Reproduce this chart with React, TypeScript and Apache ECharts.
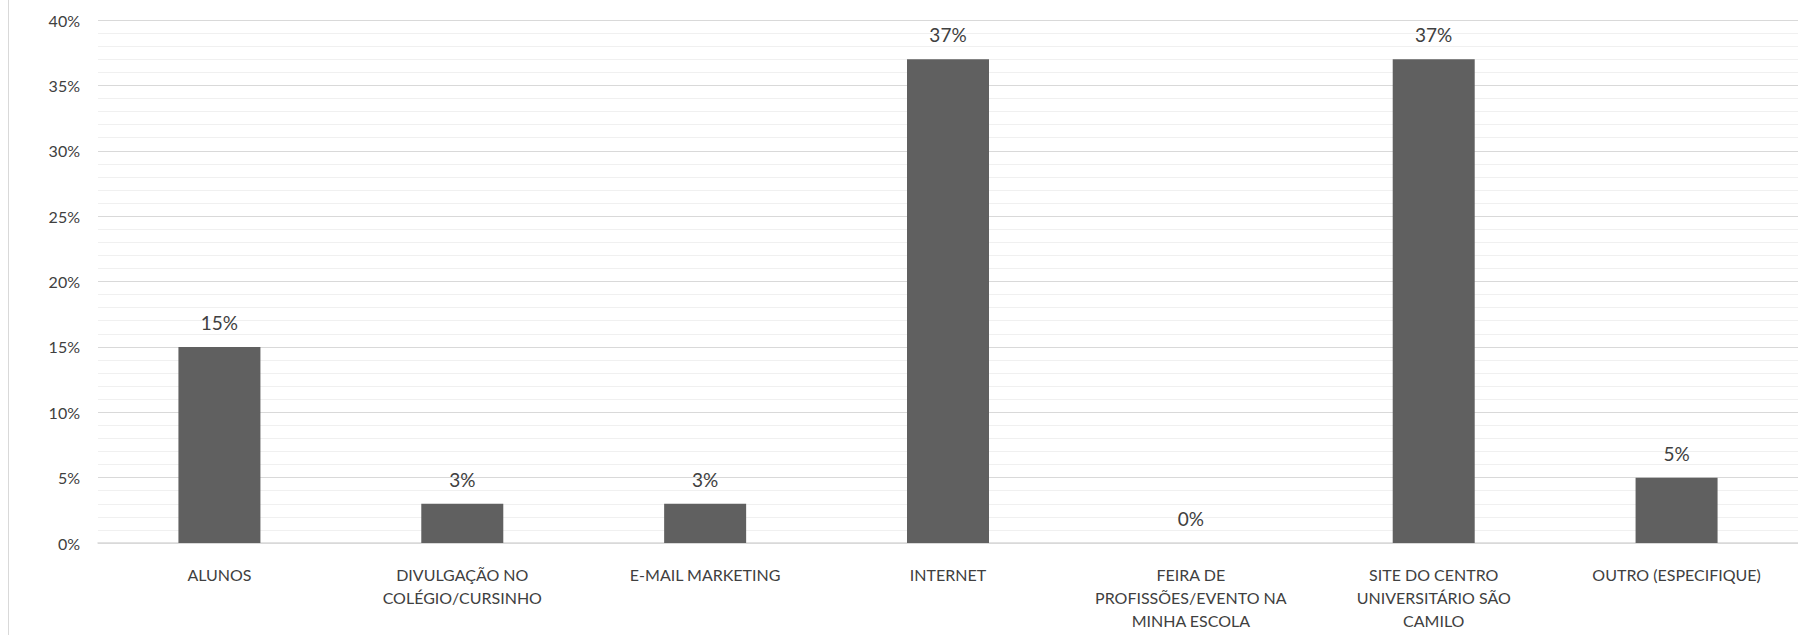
import React, { useEffect, useRef } from "react";
import * as echarts from "echarts";

const categories = [
  "ALUNOS",
  "DIVULGAÇÃO NO\nCOLÉGIO/CURSINHO",
  "E-MAIL MARKETING",
  "INTERNET",
  "FEIRA DE\nPROFISSÕES/EVENTO NA\nMINHA ESCOLA",
  "SITE DO CENTRO\nUNIVERSITÁRIO SÃO\nCAMILO",
  "OUTRO (ESPECIFIQUE)",
];
const values = [0.15, 0.03, 0.03, 0.37, 0.0, 0.37, 0.05];

const FONT = "Lato, 'Noto Sans', sans-serif";

export default function App() {
  const ref = useRef<HTMLDivElement>(null);
  useEffect(() => {
    document.body.style.margin = "0";
    const chart = echarts.init(ref.current!, undefined, { renderer: "svg" });
    chart.setOption({
      animation: false,
      backgroundColor: "#ffffff",
      grid: { left: 98, right: 0, top: 20, bottom: 92, containLabel: false },
      graphic: [
        {
          type: "line",
          shape: { x1: 8.5, y1: 0, x2: 8.5, y2: 635 },
          style: { stroke: "#d9d9d9", lineWidth: 1 },
        },
      ],
      xAxis: {
        type: "category",
        data: categories,
        axisLine: { lineStyle: { color: "#d9d9d9", width: 1.5 } },
        axisTick: { show: false },
        axisLabel: {
          color: "#404040",
          fontFamily: FONT,
          fontSize: 16,
          lineHeight: 23,
          margin: 20,
          interval: 0,
        },
      },
      yAxis: {
        type: "value",
        min: 0,
        max: 0.4,
        interval: 0.05,
        axisLine: { show: false },
        axisTick: { show: false },
        axisLabel: {
          color: "#404040",
          fontFamily: FONT,
          fontSize: 16,
          margin: 18,
          formatter: (v: number) => Math.round(v * 100) + "%",
        },
        splitLine: { lineStyle: { color: "#d9d9d9", width: 1.2 } },
        minorTick: { show: false, splitNumber: 5 },
        minorSplitLine: { show: true, lineStyle: { color: "#f0f0f0", width: 1.2 } },
      },
      series: [
        {
          type: "bar",
          data: values,
          barWidth: 82,
          itemStyle: { color: "#606060" },
          label: {
            show: true,
            position: "top",
            distance: 15,
            color: "#404040",
            fontFamily: FONT,
            fontSize: 19,
            formatter: (p: any) => Math.round(p.value * 100) + "%",
          },
        },
      ],
    });
    return () => chart.dispose();
  }, []);
  return <div ref={ref} style={{ width: 1798, height: 635 }} />;
}
